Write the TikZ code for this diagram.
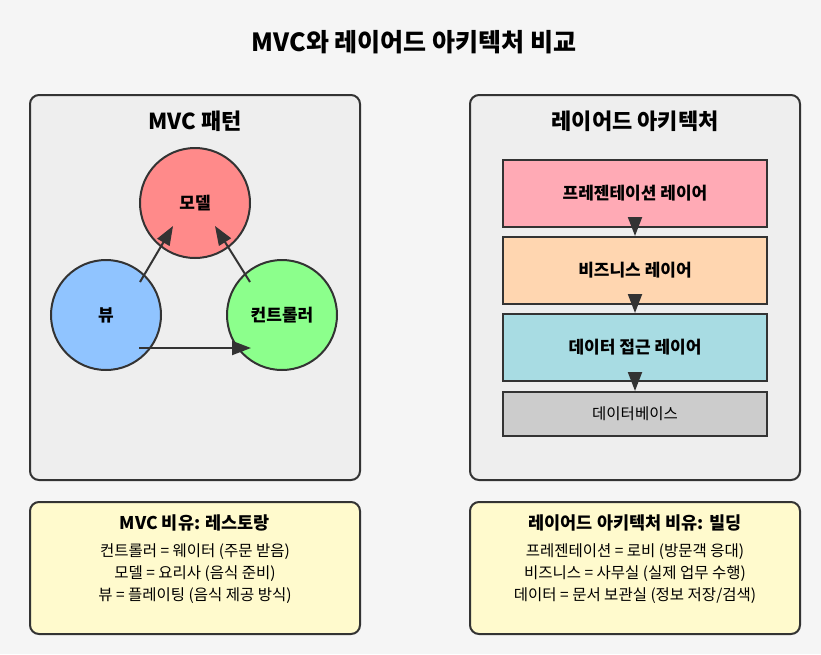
\documentclass[tikz,border=0pt]{standalone}
\usepackage{fontspec}
\setmainfont{Noto Sans CJK KR}
\usetikzlibrary{arrows.meta,calc}

\definecolor{bg}{HTML}{F5F5F5}
\definecolor{panelgray}{HTML}{EEEEEE}
\definecolor{edge}{HTML}{333333}
\definecolor{modelred}{HTML}{FF8A8A}
\definecolor{viewblue}{HTML}{90C4FF}
\definecolor{ctrlgreen}{HTML}{8CFF8C}
\definecolor{prespink}{HTML}{FFAAB5}
\definecolor{bizpeach}{HTML}{FFD6B0}
\definecolor{daocyan}{HTML}{A8DCE3}
\definecolor{dbgray}{HTML}{CCCCCC}
\definecolor{notebg}{HTML}{FFFACD}

\begin{document}
\begin{tikzpicture}[x=1pt,y=-1pt,
    panel/.style={draw=edge, line width=2pt, rounded corners=9pt, fill=panelgray},
    note/.style={draw=edge, line width=2pt, rounded corners=9pt, fill=notebg},
    circ/.style={circle, draw=edge, line width=2pt, minimum size=110pt, font=\fontsize{17}{19}\selectfont\bfseries},
    layer/.style={rectangle, draw=edge, line width=2pt, minimum width=264pt, minimum height=67pt, font=\fontsize{17}{19}\selectfont\bfseries},
    arr/.style={draw=edge, line width=2pt, -{Triangle[length=19pt,width=14pt]}},
    txt/.style={font=\fontsize{15.5}{17}\selectfont}]

    % Background
    \fill[bg] (0,0) rectangle (821,654);
    \useasboundingbox (0,0) rectangle (821,654);

    % Title
    \node[font=\fontsize{25}{28}\selectfont\bfseries] (title) at (414,42) {MVC와 레이어드 아키텍처 비교};

    % Panels
    \draw[panel] (30,95) rectangle (360,480);
    \draw[panel] (470,95) rectangle (800,480);
    \node[font=\fontsize{22}{25}\selectfont\bfseries] (mvctitle) at (195,121) {MVC 패턴};
    \node[font=\fontsize{22}{25}\selectfont\bfseries] (laytitle) at (635,121) {레이어드 아키텍처};

    % MVC circles
    \node[circ, fill=modelred] (model) at (195,203) {모델};
    \node[circ, fill=viewblue] (view) at (106,315) {뷰};
    \node[circ, fill=ctrlgreen] (ctrl) at (282,315) {컨트롤러};

    % MVC arrows
    \draw[arr] ($(view.center)+(34,-33)$) -- ($(model.center)+(-22,23)$);
    \draw[arr] ($(ctrl.center)+(-32,-33)$) -- ($(model.center)+(20,23)$);
    \draw[arr] ($(view.center)+(33,33)$) -- ($(ctrl.center)+(-31,33)$);

    % Layers
    \node[layer, fill=prespink] (pres) at (635,193.5) {프레젠테이션 레이어};
    \node[layer, fill=bizpeach] (biz) at (635,270.5) {비즈니스 레이어};
    \node[layer, fill=daocyan] (dao) at (635,347.5) {데이터 접근 레이어};
    \node[layer, fill=dbgray, minimum height=44pt, font=\fontsize{15.5}{17}\selectfont] (db) at (635,414) {데이터베이스};
    \foreach \a/\b in {pres/biz, biz/dao, dao/db} {
        \draw[arr] (\a.south) -- (\b.north);
    }

    % Analogy notes
    \draw[note] (30,502) rectangle (360,634);
    \draw[note] (470,502) rectangle (800,634);

    \node[font=\fontsize{17.5}{19}\selectfont\bfseries] (mvcnote) at (195,523) {MVC 비유: 레스토랑};
    \node[txt] (m1) at (195,552) {컨트롤러 = 웨이터 (주문 받음)};
    \node[txt] (m2) at (195,574) {모델 = 요리사 (음식 준비)};
    \node[txt] (m3) at (195,596) {뷰 = 플레이팅 (음식 제공 방식)};

    \node[font=\fontsize{17.5}{19}\selectfont\bfseries] (laynote) at (635,523) {레이어드 아키텍처 비유: 빌딩};
    \node[txt] (l1) at (635,552) {프레젠테이션 = 로비 (방문객 응대)};
    \node[txt] (l2) at (635,574) {비즈니스 = 사무실 (실제 업무 수행)};
    \node[txt] (l3) at (635,596) {데이터 = 문서 보관실 (정보 저장/검색)};

\end{tikzpicture}
\end{document}
